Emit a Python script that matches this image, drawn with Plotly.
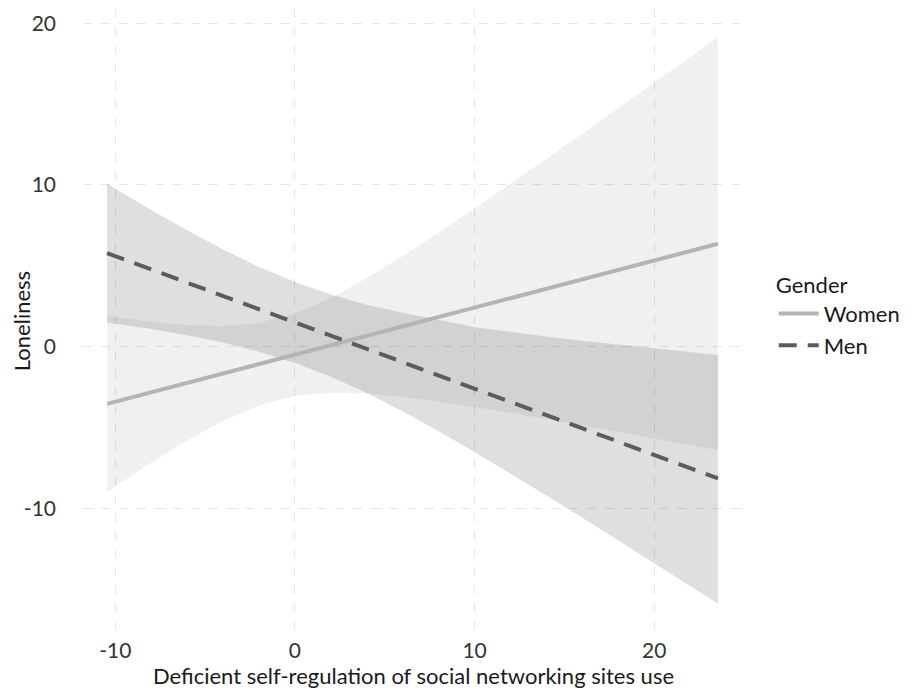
import plotly.graph_objects as go

# Values
x_pts = [-10.46, -8, -6, -4, -2, 0, 2, 4, 6, 8, 10, 12, 14, 16, 18, 20, 22, 23.55]

women_fit = [-3.54, -2.82, -2.24, -1.66, -1.08, -0.50, 0.08, 0.67, 1.25, 1.83,
             2.41, 2.99, 3.57, 4.15, 4.74, 5.32, 5.90, 6.36]
women_lo = [-8.97, -7.18, -5.81, -4.59, -3.63, -3.05, -2.85, -2.90, -3.11, -3.39,
            -3.73, -4.09, -4.48, -4.87, -5.26, -5.68, -6.09, -6.41]
women_hi = [1.89, 1.54, 1.33, 1.27, 1.47, 2.05, 3.01, 4.24, 5.61, 7.05,
            8.55, 10.07, 11.62, 13.17, 14.74, 16.32, 17.89, 19.13]

men_fit = [5.78, 4.77, 3.95, 3.13, 2.31, 1.50, 0.68, -0.14, -0.96, -1.78,
           -2.60, -3.42, -4.24, -5.06, -5.88, -6.70, -7.52, -8.15]
men_lo = [1.49, 1.09, 0.71, 0.25, -0.31, -1.00, -1.86, -2.87, -4.01, -5.23,
          -6.52, -7.85, -9.21, -10.59, -11.98, -13.39, -14.80, -15.90]
men_hi = [10.07, 8.45, 7.19, 6.01, 4.93, 4.00, 3.22, 2.59, 2.09, 1.67,
          1.20, 0.90, 0.62, 0.36, 0.12, -0.12, -0.36, -0.52]

x_ticks = [-10, 0, 10, 20]
y_ticks = [-10, 0, 10, 20]

FONT = "Lato"

fig = go.Figure()

# Confidence bands
fig.add_trace(go.Scatter(x=x_pts, y=women_hi, mode="lines", line=dict(width=0),
                         showlegend=False, hoverinfo="skip"))
fig.add_trace(go.Scatter(x=x_pts, y=women_lo, mode="lines", line=dict(width=0),
                         fill="tonexty", fillcolor="rgba(0,0,0,0.058)",
                         showlegend=False, hoverinfo="skip"))
fig.add_trace(go.Scatter(x=x_pts, y=men_hi, mode="lines", line=dict(width=0),
                         showlegend=False, hoverinfo="skip"))
fig.add_trace(go.Scatter(x=x_pts, y=men_lo, mode="lines", line=dict(width=0),
                         fill="tonexty", fillcolor="rgba(0,0,0,0.125)",
                         showlegend=False, hoverinfo="skip"))

# Fitted lines
fig.add_trace(go.Scatter(x=x_pts, y=women_fit, mode="lines", name="Women",
                         line=dict(color="#b4b4b4", width=4)))
fig.add_trace(go.Scatter(x=x_pts, y=men_fit, mode="lines", name="Men",
                         line=dict(color="#5c5c5c", width=4, dash="18px,11px")))

axis_common = dict(
    showgrid=True, gridcolor="#e6e6e6", gridwidth=1, griddash="dash",
    zeroline=False, showline=False, ticks="", automargin=False,
    tickfont=dict(family=FONT, size=21, color="#333333"),
)

fig.update_xaxes(range=[-11.8, 25.0], tickvals=x_ticks,
                 ticktext=[str(v) for v in x_ticks],
                 title=dict(text="Deficient self-regulation of social networking sites use",
                            font=dict(family=FONT, size=22, color="#1a1a1a"), standoff=6),
                 ticklabelstandoff=3, **axis_common)
fig.update_yaxes(range=[-17.71, 20.88], tickvals=y_ticks,
                 ticktext=[str(v) for v in y_ticks],
                 title=dict(text="Loneliness",
                            font=dict(family=FONT, size=22, color="#1a1a1a"), standoff=4),
                 ticklabelstandoff=26, **axis_common)

# The page body adds an 8px offset, so the figure is sized to the visible area.
fig.update_layout(
    width=908, height=681,
    margin=dict(l=75, r=172, t=1, b=56),
    plot_bgcolor="white", paper_bgcolor="white",
    font=dict(family=FONT, size=22, color="#1a1a1a"),
    legend=dict(
        title=dict(text="Gender", font=dict(family=FONT, size=22, color="#1a1a1a")),
        x=1.045, xanchor="left", y=0.591, yanchor="top",
        font=dict(family=FONT, size=22, color="#1a1a1a"),
        bgcolor="rgba(0,0,0,0)", tracegroupgap=0, itemwidth=40,
        traceorder="normal",
    ),
)

fig.write_html("out.html")
